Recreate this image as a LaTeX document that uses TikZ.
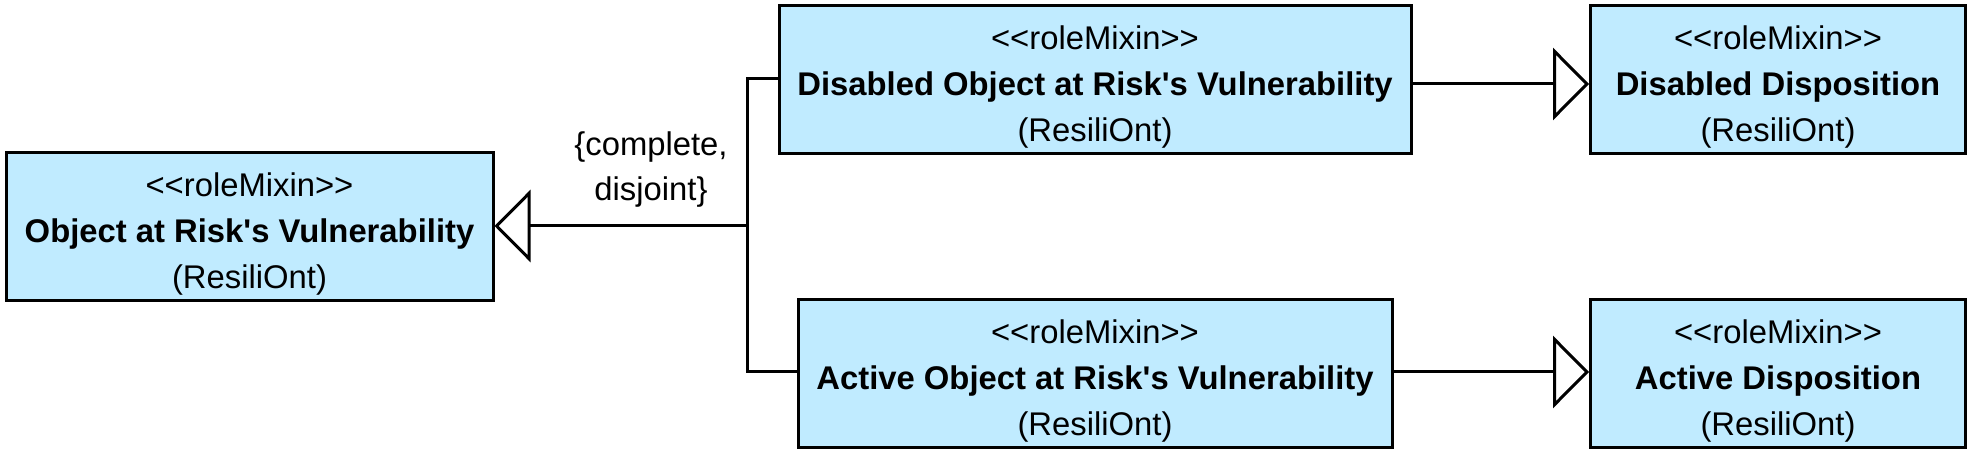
\documentclass[tikz,border=0pt]{standalone}
\usepackage{fontspec}
\setmainfont{Liberation Sans}
\usetikzlibrary{arrows.meta}
\definecolor{boxblue}{RGB}{192,235,255}
\tikzset{
  umlbox/.style={draw=black, line width=1.5pt, fill=boxblue, rectangle,
    minimum height=74pt, inner sep=0pt, align=center,
    font=\fontsize{16.4}{23}\selectfont},
  conn/.style={line width=1.5pt, draw=black},
  gen/.style={conn, -{Triangle[open, length=18pt, width=36pt, line width=1.5pt]}},
  lbl/.style={align=center, inner sep=0pt, font=\fontsize{16.4}{22.5}\selectfont}
}
\newcommand{\umltext}[1]{\rule{0pt}{19pt}<\kern0pt<roleMixin>\kern0pt>\\\textbf{#1}\\(ResiliOnt)}
\newcommand{\apos}{\textquotesingle}
\begin{document}
\begin{tikzpicture}[x=0.5pt,y=-0.5pt]
\useasboundingbox (0,0) rectangle (1977,459);
\node[umlbox, minimum width=243.5pt] (obj) at (249.5,227) {\umltext{Object at Risk\apos s Vulnerability}};
\node[umlbox, minimum width=316pt] (dis) at (1095,80) {\umltext{Disabled Object at Risk\apos s Vulnerability}};
\node[umlbox, minimum width=187.5pt] (disd) at (1778,80) {\umltext{Disabled Disposition}};
\node[umlbox, minimum width=297pt] (act) at (1095,374) {\umltext{Active Object at Risk\apos s Vulnerability}};
\node[umlbox, minimum width=187.5pt] (actd) at (1778,374) {\umltext{Active Disposition}};
\coordinate (j) at (747,226);
\coordinate (jt) at (747,79);
\coordinate (jb) at (747,372);
\draw[conn] (dis.west |- jt) -- (jt) -- (jb) -- (act.west |- jb);
\draw[gen] (j) -- (obj.east |- j);
\node[lbl] (cd) at (651,169.5) {\{complete,\\disjoint\}};
\draw[gen] (dis.east |- 0,84) -- (disd.west |- 0,84);
\draw[gen] (act.east |- 0,372) -- (actd.west |- 0,372);
\end{tikzpicture}
\end{document}
